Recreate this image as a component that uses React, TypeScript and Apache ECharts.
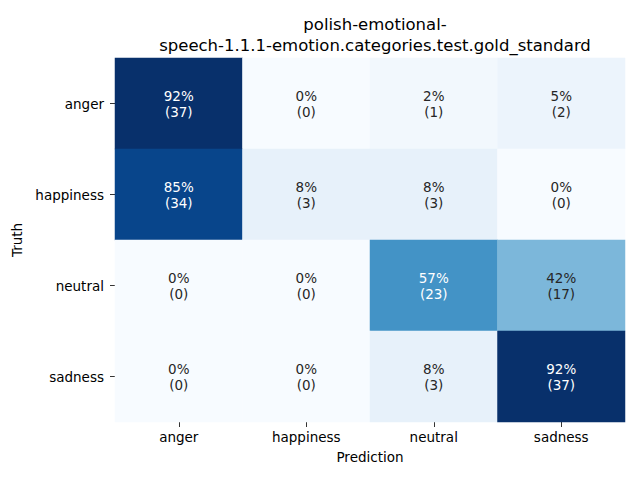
import React, { useEffect, useRef } from "react";
import * as echarts from "echarts";

const titleLines = ["polish-emotional-", "speech-1.1.1-emotion.categories.test.gold_standard"];
const predCategories = ["anger", "happiness", "neutral", "sadness"];
const truthCategories = ["anger", "happiness", "neutral", "sadness"];
// counts[truthRow][predCol]
const countsAnger = [37, 0, 1, 2];
const countsHappiness = [34, 3, 3, 0];
const countsNeutral = [0, 0, 23, 17];
const countsSadness = [0, 0, 3, 37];
// percentage labels as printed
const pctAnger = [92, 0, 2, 5];
const pctHappiness = [85, 8, 8, 0];
const pctNeutral = [0, 0, 57, 42];
const pctSadness = [0, 0, 8, 92];

const blues = ["#f7fbff", "#deebf7", "#c6dbef", "#9ecae1", "#6baed6", "#4292c6", "#2171b5", "#08519c", "#08306b"];

function hexToRgb(h: string) {
  return [parseInt(h.slice(1, 3), 16), parseInt(h.slice(3, 5), 16), parseInt(h.slice(5, 7), 16)];
}
function colorAt(t: number) {
  const tt = Math.max(0, Math.min(1, t)) * (blues.length - 1);
  const i = Math.min(blues.length - 2, Math.floor(tt));
  const f = tt - i;
  const a = hexToRgb(blues[i]);
  const b = hexToRgb(blues[i + 1]);
  return a.map((v, k) => v + (b[k] - v) * f);
}
function luminance(rgb: number[]) {
  const c = rgb.map((v) => {
    const s = v / 255;
    return s <= 0.03928 ? s / 12.92 : Math.pow((s + 0.055) / 1.055, 2.4);
  });
  return 0.2126 * c[0] + 0.7152 * c[1] + 0.0722 * c[2];
}

export default function App() {
  const ref = useRef<HTMLDivElement>(null);
  useEffect(() => {
    if (!ref.current) return;
    const chart = echarts.init(ref.current, undefined, { renderer: "svg" });
    const counts = [countsAnger, countsHappiness, countsNeutral, countsSadness];
    const pcts = [pctAnger, pctHappiness, pctNeutral, pctSadness];
    let vmax = 0;
    const fr = counts.map((row) => {
      const tot = row.reduce((a, b) => a + b, 0);
      return row.map((c) => {
        const v = c / tot;
        if (v > vmax) vmax = v;
        return v;
      });
    });
    const data: any[] = [];
    counts.forEach((row, r) => {
      row.forEach((c, col) => {
        const v = fr[r][col];
        const lum = luminance(colorAt(v / vmax));
        data.push({
          value: [col, r, v],
          label: {
            formatter: pcts[r][col] + "%\n(" + c + ")",
            color: lum > 0.408 ? "#262626" : "#ffffff",
          },
        });
      });
    });
    const font = "DejaVu Sans";
    chart.setOption({
      animation: false,
      backgroundColor: "#ffffff",
      title: {
        text: titleLines.join("\n"),
        left: 370,
        top: 9,
        textAlign: "center",
        textStyle: { fontFamily: font, fontSize: 16.5, fontWeight: "normal", color: "#000", lineHeight: 21 },
      },
      grid: { left: 115, right: 15, top: 58, bottom: 58 },
      xAxis: {
        type: "category",
        data: predCategories,
        name: "Prediction",
        nameLocation: "middle",
        nameGap: 28,
        nameTextStyle: { fontFamily: font, fontSize: 13.5, color: "#000" },
        axisLine: { show: false },
        axisTick: { show: true, alignWithLabel: true, length: 5, lineStyle: { color: "#000", width: 0.8 } },
        axisLabel: { fontFamily: font, fontSize: 13.5, color: "#000", margin: 8 },
        splitLine: { show: false },
      },
      yAxis: {
        type: "category",
        data: truthCategories,
        inverse: true,
        name: "Truth",
        nameLocation: "middle",
        nameGap: 85,
        nameRotate: 90,
        nameTextStyle: { fontFamily: font, fontSize: 13.5, color: "#000" },
        axisLine: { show: false },
        axisTick: { show: true, alignWithLabel: true, length: 5, lineStyle: { color: "#000", width: 0.8 } },
        axisLabel: { fontFamily: font, fontSize: 13.5, color: "#000", margin: 11 },
        splitLine: { show: false },
      },
      visualMap: {
        show: false,
        type: "continuous",
        min: 0,
        max: vmax,
        dimension: 2,
        inRange: { color: blues },
      },
      series: [
        {
          type: "heatmap",
          data,
          label: {
            show: true,
            fontFamily: font,
            fontSize: 13.5,
            lineHeight: 16,
            align: "center",
          },
          itemStyle: { borderWidth: 0 },
          emphasis: { disabled: true },
        },
      ],
    });
    return () => chart.dispose();
  }, []);
  return <div ref={ref} style={{ width: 640, height: 480, position: "absolute", left: 0, top: 0 }} />;
}
